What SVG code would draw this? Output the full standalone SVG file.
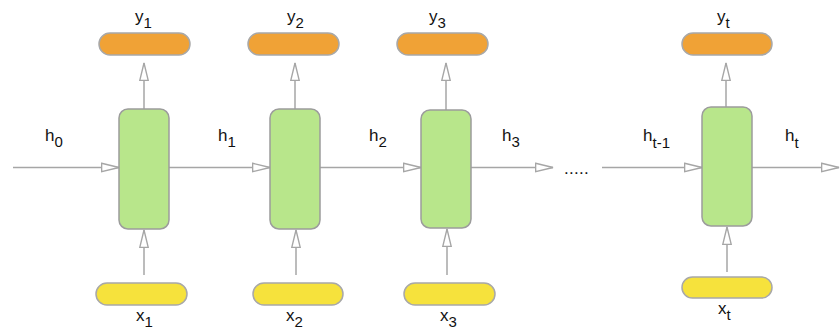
<svg xmlns="http://www.w3.org/2000/svg" width="840" height="332" viewBox="0 0 840 332">
<style>
.cell{fill:#b8e68b;stroke:#9c9c9c;stroke-width:1.5}
.out{fill:#f0a236;stroke:#a8a8a8;stroke-width:1.5}
.in{fill:#f6e23c;stroke:#a8a8a8;stroke-width:1.5}
.lbl{font-family:"Liberation Sans",Arial,sans-serif;font-size:17px;fill:#111}
.sub{font-size:15px}
.edge{stroke:#a6a6a6;stroke-width:1.5;fill:none;marker-end:url(#tri)}
</style>
<defs>
<marker id="tri" markerUnits="userSpaceOnUse" markerWidth="20" markerHeight="12" viewBox="-1 -1 19 10" refX="16.5" refY="4" orient="auto">
<path d="M0,0 L16.5,4 L0,8 Z" fill="#fff" stroke="#a6a6a6" stroke-width="1.3"/>
</marker>
</defs>
<g id="connectors">
<line class="edge" x1="13" y1="167.5" x2="119" y2="167.5"/>
<line class="edge" x1="169" y1="167.5" x2="270" y2="167.5"/>
<line class="edge" x1="320" y1="167.5" x2="421" y2="167.5"/>
<line class="edge" x1="471" y1="167.5" x2="553" y2="167.5"/>
<line class="edge" x1="602" y1="167.5" x2="702" y2="167.5"/>
<line class="edge" x1="752" y1="167.5" x2="839" y2="167.5"/>
<line class="edge" x1="144" y1="109" x2="144" y2="63"/>
<line class="edge" x1="295" y1="109" x2="295" y2="63"/>
<line class="edge" x1="446" y1="110" x2="446" y2="63"/>
<line class="edge" x1="726" y1="107" x2="726" y2="63"/>
<line class="edge" x1="144" y1="275" x2="144" y2="230"/>
<line class="edge" x1="296" y1="275" x2="296" y2="230"/>
<line class="edge" x1="447" y1="275" x2="447" y2="229"/>
<line class="edge" x1="727" y1="272" x2="727" y2="227"/>
<text class="lbl" x="564" y="174" letter-spacing="0.3">.....</text>
</g>
<g id="h-labels">
<text class="lbl" x="45" y="141">h<tspan class="sub" dy="6">0</tspan></text>
<text class="lbl" x="218" y="141">h<tspan class="sub" dy="6">1</tspan></text>
<text class="lbl" x="369" y="141">h<tspan class="sub" dy="6">2</tspan></text>
<text class="lbl" x="502" y="141">h<tspan class="sub" dy="6">3</tspan></text>
<text class="lbl" x="643" y="141">h<tspan class="sub" dy="7">t-1</tspan></text>
<text class="lbl" x="785" y="141">h<tspan class="sub" dy="7">t</tspan></text>
</g>
<g id="cell1"><rect class="cell" x="119" y="109" width="50" height="120" rx="9"/></g>
<g id="cell2"><rect class="cell" x="270" y="109" width="50" height="120" rx="9"/></g>
<g id="cell3"><rect class="cell" x="421" y="110" width="50" height="118" rx="9"/></g>
<g id="cellt"><rect class="cell" x="702" y="107" width="50" height="119" rx="9"/></g>
<g id="y1"><rect class="out" x="99" y="33" width="91" height="22" rx="11"/><text class="lbl" x="135" y="22">y<tspan class="sub" dy="6">1</tspan></text></g>
<g id="y2"><rect class="out" x="248" y="33" width="91" height="22" rx="11"/><text class="lbl" x="287" y="22">y<tspan class="sub" dy="6">2</tspan></text></g>
<g id="y3"><rect class="out" x="397" y="33" width="91" height="22" rx="11"/><text class="lbl" x="429" y="22">y<tspan class="sub" dy="6">3</tspan></text></g>
<g id="yt"><rect class="out" x="682" y="33" width="90" height="22" rx="11"/><text class="lbl" x="717" y="22">y<tspan class="sub" dy="6">t</tspan></text></g>
<g id="x1"><rect class="in" x="96" y="283" width="91" height="22" rx="11"/><text class="lbl" x="136" y="321">x<tspan class="sub" dy="6">1</tspan></text></g>
<g id="x2"><rect class="in" x="253" y="283" width="90" height="22" rx="11"/><text class="lbl" x="286" y="321">x<tspan class="sub" dy="6">2</tspan></text></g>
<g id="x3"><rect class="in" x="404" y="283" width="91" height="22" rx="11"/><text class="lbl" x="440" y="321">x<tspan class="sub" dy="6">3</tspan></text></g>
<g id="xt"><rect class="in" x="682" y="277" width="90" height="21" rx="10.5"/><text class="lbl" x="718" y="314">x<tspan class="sub" dy="6">t</tspan></text></g>
</svg>
